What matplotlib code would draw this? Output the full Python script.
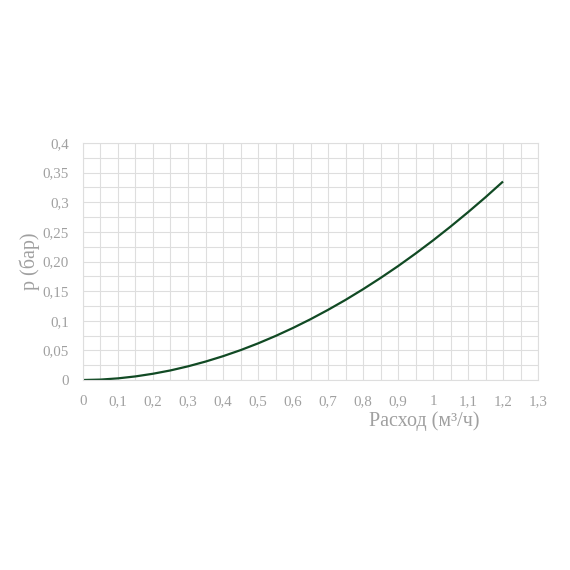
import numpy as np
import matplotlib
matplotlib.use('Agg')
import matplotlib.pyplot as plt

# flow (m3/h) and pressure drop (bar)
flow = [0, 0.05, 0.1, 0.15, 0.2, 0.25, 0.3, 0.35, 0.4, 0.45, 0.5, 0.55, 0.6,
        0.65, 0.7, 0.75, 0.8, 0.85, 0.9, 0.95, 1.0, 1.05, 1.1, 1.15, 1.2]
pressure = [0, 0.0007, 0.0028, 0.0061, 0.0106, 0.0162, 0.0231, 0.0311, 0.0402,
            0.0504, 0.0618, 0.0743, 0.0879, 0.1026, 0.1184, 0.1352, 0.1532,
            0.1722, 0.1922, 0.2134, 0.2356, 0.2589, 0.2832, 0.3085, 0.335]

x_ticks = [0, 0.1, 0.2, 0.3, 0.4, 0.5, 0.6, 0.7, 0.8, 0.9, 1.0, 1.1, 1.2, 1.3]
x_labels = ['0', '0,1', '0,2', '0,3', '0,4', '0,5', '0,6', '0,7', '0,8', '0,9',
            '1', '1,1', '1,2', '1,3']
y_ticks = [0, 0.05, 0.1, 0.15, 0.2, 0.25, 0.3, 0.35, 0.4]
y_labels = ['0', '0,05', '0,1', '0,15', '0,20', '0,25', '0,3', '0,35', '0,4']

plt.rcParams['font.family'] = ['Liberation Serif', 'DejaVu Serif']
text_grey = '#a0a0a0'
grid_grey = '#dedede'

fig = plt.figure(figsize=(5.7, 5.7), dpi=100)
ax = fig.add_axes([0.1456, 0.3333, 0.7983, 0.4158])

ax.plot(flow, pressure, color='#114a24', linewidth=1.6, solid_capstyle='butt')

ax.set_xlim(0, 1.3)
ax.set_ylim(0, 0.4)
ax.set_xticks(x_ticks)
ax.set_xticklabels(x_labels, va='baseline')
ax.set_yticks(y_ticks)
ax.set_yticklabels(y_labels)
ax.set_xticks(np.arange(0.05, 1.3, 0.1), minor=True)
ax.set_yticks(np.arange(0.025, 0.4, 0.05), minor=True)

ax.grid(which='both', color=grid_grey, linewidth=0.8)
ax.set_axisbelow(True)
ax.tick_params(which='both', length=0, colors=text_grey, labelsize=10.8, pad=10)
ax.tick_params(axis='x', pad=18)
for s in ax.spines.values():
    s.set_color(grid_grey)
    s.set_linewidth(0.8)

ax.set_ylabel('p (бар)', color=text_grey, fontsize=14.5)
ax.yaxis.set_label_coords(-0.094, 0.5)
ax.text(0.75, -0.175, 'Расход (м³/ч)', transform=ax.transAxes, color=text_grey,
        fontsize=14.5, ha='center', va='center')

fig.savefig('out.png', dpi=100)
